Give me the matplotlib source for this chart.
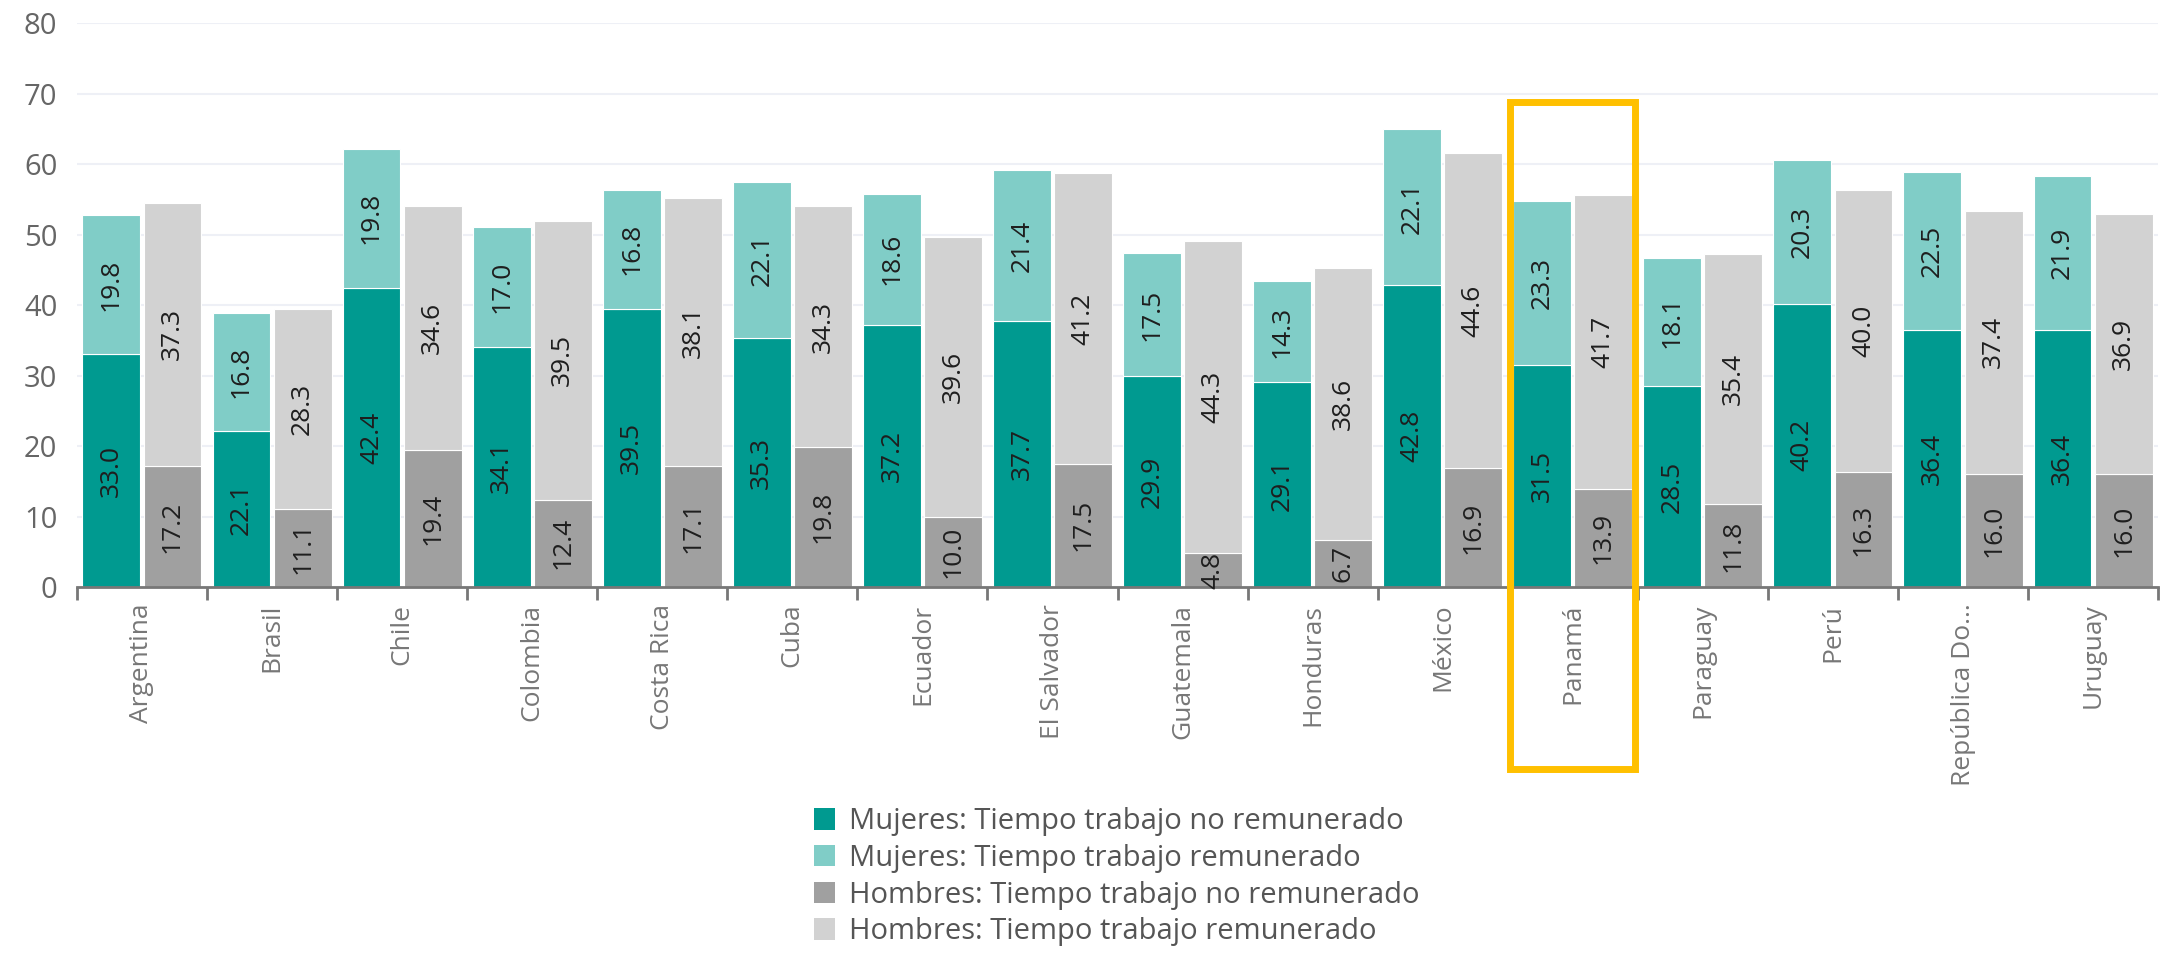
import numpy as np
import matplotlib
matplotlib.use("Agg")
import matplotlib.pyplot as plt
from matplotlib import font_manager
from matplotlib.patches import Rectangle, Patch

countries = ["Argentina", "Brasil", "Chile", "Colombia", "Costa Rica", "Cuba",
             "Ecuador", "El Salvador", "Guatemala", "Honduras", "México",
             "Panamá", "Paraguay", "Perú", "República Do...", "Uruguay"]
mujeres_no_rem = [33.0, 22.1, 42.4, 34.1, 39.5, 35.3, 37.2, 37.7, 29.9, 29.1, 42.8, 31.5, 28.5, 40.2, 36.4, 36.4]
mujeres_rem = [19.8, 16.8, 19.8, 17.0, 16.8, 22.1, 18.6, 21.4, 17.5, 14.3, 22.1, 23.3, 18.1, 20.3, 22.5, 21.9]
hombres_no_rem = [17.2, 11.1, 19.4, 12.4, 17.1, 19.8, 10.0, 17.5, 4.8, 6.7, 16.9, 13.9, 11.8, 16.3, 16.0, 16.0]
hombres_rem = [37.3, 28.3, 34.6, 39.5, 38.1, 34.3, 39.6, 41.2, 44.3, 38.6, 44.6, 41.7, 35.4, 40.0, 37.4, 36.9]
yticks = [0, 10, 20, 30, 40, 50, 60, 70, 80]
highlight = "Panamá"

labels_legend = ["Mujeres: Tiempo trabajo no remunerado",
                 "Mujeres: Tiempo trabajo remunerado",
                 "Hombres: Tiempo trabajo no remunerado",
                 "Hombres: Tiempo trabajo remunerado"]
colors = ["#009A90", "#80CDC7", "#A0A0A0", "#D2D2D2"]

names = {f.name for f in font_manager.fontManager.ttflist}
font = "Open Sans" if "Open Sans" in names else "DejaVu Sans"

fig = plt.figure(figsize=(21.67, 9.55), dpi=100)
ax = fig.add_axes([0.0355, 0.3853, 0.9604, 0.5906])

x = np.arange(len(countries))
w = 0.445
off = 0.235

ax.bar(x - off, mujeres_no_rem, w, color=colors[0], edgecolor="white", linewidth=0.8, zorder=2)
ax.bar(x - off, mujeres_rem, w, bottom=mujeres_no_rem, color=colors[1], edgecolor="white", linewidth=0.8, zorder=2)
ax.bar(x + off, hombres_no_rem, w, color=colors[2], edgecolor="white", linewidth=0.8, zorder=2)
ax.bar(x + off, hombres_rem, w, bottom=hombres_no_rem, color=colors[3], edgecolor="white", linewidth=0.8, zorder=2)

# etiquetas de valor en el centro de cada segmento
for i in range(len(countries)):
    segs = [(x[i] - off, 0, mujeres_no_rem[i]),
            (x[i] - off, mujeres_no_rem[i], mujeres_rem[i]),
            (x[i] + off, 0, hombres_no_rem[i]),
            (x[i] + off, hombres_no_rem[i], hombres_rem[i])]
    for xc, b, v in segs:
        ax.text(xc, b + v / 2, f"{v:.1f}", rotation=90, ha="center", va="center",
                fontsize=19, family=font, color="#1E1E1E", zorder=3)

ax.set_xlim(-0.5, len(countries) - 0.5)
ax.set_ylim(0, 80)
ax.set_yticks(yticks)
ax.set_yticklabels([str(t) for t in yticks], fontsize=21, family=font, color="#666666")
ax.tick_params(axis="y", length=0, pad=14)
ax.yaxis.grid(True, color="#EEF0F6", linewidth=1.5, zorder=0)
ax.set_axisbelow(True)

ax.set_xticks(x)
ax.set_xticklabels(countries, rotation=90, fontsize=19, family=font, color="#777777")
ax.tick_params(axis="x", which="major", length=0, pad=12)
ax.set_xticks(np.arange(len(countries) + 1) - 0.5, minor=True)
ax.tick_params(axis="x", which="minor", length=9, width=2, color="#777777")

for s in ["top", "right", "left"]:
    ax.spines[s].set_visible(False)
ax.spines["bottom"].set_color("#777777")
ax.spines["bottom"].set_linewidth(2)

# recuadro amarillo de Panamá
k = countries.index(highlight)
rect = Rectangle((k - 0.48, -25.8), 0.96, 25.8 + 68.8, fill=False,
                 edgecolor="#FFC000", linewidth=5, clip_on=False, zorder=4)
ax.add_patch(rect)

handles = [Patch(facecolor=c, edgecolor="none") for c in colors]
fig.legend(handles, labels_legend, loc="upper left", bbox_to_anchor=(0.366, 0.176),
           frameon=False, prop={"family": font, "size": 21},
           handlelength=0.75, handleheight=0.75, handletextpad=0.45, labelspacing=0.26,
           borderpad=0.2, labelcolor="#555555")

fig.savefig("out.png", dpi=100)
